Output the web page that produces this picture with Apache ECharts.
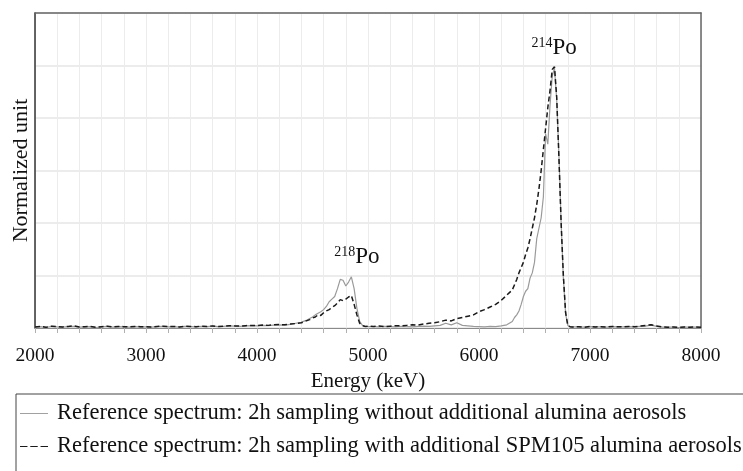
<!DOCTYPE html>
<html>
<head>
<meta charset="utf-8">
<script src="https://cdn.jsdelivr.net/npm/echarts@6/dist/echarts.min.js"></script>
<style>
  html, body { margin: 0; padding: 0; background: #fff; }
  #main { width: 743px; height: 471px; }
</style>
</head>
<body>
<div id="main"></div>
<script>
// energy channels (keV)
const energyKeV = [
  2000, 2050, 2100, 2150, 2200, 2250, 2300, 2350, 2400, 2450,
  2500, 2550, 2600, 2650, 2700, 2750, 2800, 2850, 2900, 2950,
  3000, 3050, 3100, 3150, 3200, 3250, 3300, 3350, 3400, 3450,
  3500, 3550, 3600, 3650, 3700, 3750, 3800, 3850, 3900, 3950,
  4000, 4050, 4100, 4150, 4200, 4250, 4300, 4350, 4400,
  4425, 4450, 4475, 4500, 4525, 4550, 4575, 4600, 4625, 4650,
  4675, 4700, 4725, 4750, 4775, 4800, 4825, 4850, 4875, 4900,
  4925, 4950, 4975, 5000,
  5050, 5100, 5150, 5200, 5250, 5300, 5350, 5400, 5450, 5500,
  5550, 5600, 5650, 5700, 5750, 5800, 5850, 5900, 5950, 6000,
  6050, 6100, 6150, 6200, 6250, 6300,
  6320, 6340, 6360, 6380, 6400, 6420, 6440, 6460, 6480, 6500,
  6520, 6540, 6560, 6580, 6600, 6620, 6640, 6660, 6680, 6700,
  6720, 6740, 6760, 6780, 6800, 6820, 6840,
  6850, 6900, 6950, 7000, 7050, 7100, 7150, 7200, 7250, 7300,
  7350, 7400, 7450, 7500, 7550, 7600, 7650, 7700, 7750, 7800,
  7850, 7900, 7950, 8000
];

// gray solid: without additional alumina aerosols
const withoutAlumina = [
  0.003, 0.005, 0.002, 0.006, 0.004, 0.003, 0.005, 0.006, 0.003, 0.004,
  0.005, 0.002, 0.004, 0.006, 0.003, 0.005, 0.004, 0.003, 0.005, 0.004,
  0.004, 0.003, 0.005, 0.006, 0.004, 0.005, 0.003, 0.006, 0.005, 0.004,
  0.006, 0.005, 0.007, 0.005, 0.006, 0.008, 0.007, 0.006, 0.008, 0.009,
  0.008, 0.010, 0.009, 0.011, 0.012, 0.011, 0.014, 0.018, 0.022,
  0.026, 0.030, 0.036, 0.042, 0.050, 0.056, 0.062, 0.070, 0.082, 0.100,
  0.110, 0.120, 0.150, 0.185, 0.182, 0.160, 0.175, 0.195, 0.150, 0.075,
  0.025, 0.010, 0.006, 0.005,
  0.005, 0.004, 0.006, 0.005, 0.004, 0.006, 0.005, 0.004, 0.006, 0.007,
  0.006, 0.008, 0.010, 0.018, 0.012, 0.020, 0.010, 0.008, 0.006, 0.005,
  0.004, 0.006, 0.005, 0.008, 0.012, 0.025,
  0.040, 0.050, 0.065, 0.090, 0.120, 0.140, 0.150, 0.190, 0.210, 0.250,
  0.340, 0.380, 0.420, 0.500, 0.740, 0.700, 0.850, 0.960, 0.990, 0.870,
  0.660, 0.400, 0.190, 0.055, 0.010, 0.005, 0.004,
  0.003, 0.004, 0.003, 0.005, 0.004, 0.004, 0.003, 0.005, 0.004, 0.004,
  0.005, 0.004, 0.006, 0.007, 0.011, 0.006, 0.003, 0.003, 0.003, 0.002,
  0.003, 0.003, 0.003, 0.002
];

// black dashed: with additional SPM105 alumina aerosols
const withAlumina = [
  0.004, 0.006, 0.003, 0.007, 0.005, 0.004, 0.006, 0.008, 0.004, 0.005,
  0.006, 0.003, 0.005, 0.007, 0.004, 0.006, 0.005, 0.004, 0.006, 0.005,
  0.005, 0.004, 0.006, 0.007, 0.005, 0.006, 0.004, 0.007, 0.006, 0.005,
  0.007, 0.006, 0.008, 0.006, 0.007, 0.009, 0.008, 0.007, 0.009, 0.010,
  0.009, 0.011, 0.010, 0.012, 0.013, 0.012, 0.015, 0.017, 0.020,
  0.024, 0.028, 0.032, 0.038, 0.042, 0.050, 0.048, 0.058, 0.065, 0.070,
  0.078, 0.085, 0.095, 0.108, 0.104, 0.110, 0.118, 0.124, 0.090, 0.050,
  0.018, 0.009, 0.006, 0.007,
  0.006, 0.008, 0.005, 0.007, 0.009, 0.008, 0.010, 0.012, 0.011, 0.015,
  0.018, 0.020, 0.024, 0.030, 0.027, 0.036, 0.040, 0.045, 0.050, 0.062,
  0.070, 0.080, 0.090, 0.105, 0.125, 0.145,
  0.165, 0.185, 0.210, 0.230, 0.250, 0.280, 0.305, 0.340, 0.380, 0.420,
  0.470, 0.530, 0.600, 0.680, 0.760, 0.840, 0.905, 0.985, 0.995, 0.880,
  0.650, 0.400, 0.200, 0.060, 0.010, 0.005, 0.004,
  0.004, 0.005, 0.003, 0.006, 0.004, 0.005, 0.004, 0.006, 0.005, 0.004,
  0.006, 0.005, 0.007, 0.010, 0.012, 0.008, 0.004, 0.003, 0.004, 0.003,
  0.004, 0.003, 0.004, 0.003
];

const seriesNames = [
  'Reference spectrum: 2h sampling without additional alumina aerosols',
  'Reference spectrum: 2h sampling with additional SPM105 alumina aerosols'
];

// peak labels: [energy, height, mass number]
const peakLabels = [
  [4900, 0.27, '218'],
  [6676, 1.066, '214']
];

const FONT = '"Liberation Serif", "DejaVu Serif", serif';

const pairs = (ys) => energyKeV.map((e, i) => [e, ys[i]]);

// legend icons: plain line and three dashes
const solidIcon = 'path://M0,0h30v1h-30z';
const dashIcon = 'path://M0,0h8v1h-8z M11,0h8v1h-8z M22,0h8v1h-8z';

const chart = echarts.init(document.getElementById('main'));

chart.setOption({
  animation: false,
  textStyle: { fontFamily: FONT },
  grid: { left: 35, right: 42, top: 13, bottom: 143 },
  legend: {
    orient: 'vertical',
    left: 15,
    top: 397,
    itemGap: 10,
    itemWidth: 28,
    itemHeight: 1.6,
    textStyle: { fontFamily: FONT, fontSize: 22.5, color: '#111', padding: [0, 0, 0, 4] },
    data: [
      { name: seriesNames[0], icon: solidIcon },
      { name: seriesNames[1], icon: dashIcon }
    ]
  },
  graphic: [
    {
      type: 'rect',
      shape: { x: 16, y: 394, width: 760, height: 100 },
      style: { fill: 'none', stroke: '#444', lineWidth: 1 }
    }
  ],
  xAxis: [
    {
      type: 'value',
      min: 2000,
      max: 8000,
      interval: 200,
      name: 'Energy (keV)',
      nameLocation: 'middle',
      nameGap: 41,
      nameTextStyle: { fontFamily: FONT, fontSize: 21, color: '#111' },
      axisLine: { lineStyle: { color: '#8a8a8a', width: 1 } },
      axisTick: { show: true, length: 5, lineStyle: { color: '#b0b0b0' } },
      axisLabel: {
        fontFamily: FONT,
        fontSize: 19.5,
        color: '#111',
        margin: 18,
        formatter: (v) => (v % 1000 === 0 ? String(v) : '')
      },
      splitLine: { show: true, lineStyle: { color: '#ececec', width: 1 } }
    },
    {
      // top frame
      type: 'value',
      position: 'top',
      min: 2000,
      max: 8000,
      axisLine: { show: true, onZero: false, lineStyle: { color: '#666', width: 1.5 } },
      axisTick: { show: false },
      axisLabel: { show: false },
      splitLine: { show: false }
    }
  ],
  yAxis: [
    {
      type: 'value',
      min: 0,
      max: 1.2,
      interval: 0.2,
      name: 'Normalized unit',
      nameLocation: 'middle',
      nameGap: 3,
      nameTextStyle: { fontFamily: FONT, fontSize: 22, color: '#111' },
      axisLine: { show: true, lineStyle: { color: '#333', width: 1.5 } },
      axisTick: { show: false },
      axisLabel: { show: false },
      splitLine: { show: true, lineStyle: { color: '#e6e6e6', width: 1.5 } }
    },
    {
      // right frame
      type: 'value',
      position: 'right',
      min: 0,
      max: 1.2,
      axisLine: { show: true, onZero: false, lineStyle: { color: '#666', width: 1.5 } },
      axisTick: { show: false },
      axisLabel: { show: false },
      splitLine: { show: false }
    }
  ],
  series: [
    {
      name: seriesNames[0],
      type: 'line',
      symbol: 'none',
      data: pairs(withoutAlumina),
      lineStyle: { color: '#9a9a9a', width: 1.2 },
      itemStyle: { color: '#9a9a9a' },
      z: 2
    },
    {
      name: seriesNames[1],
      type: 'line',
      symbol: 'none',
      data: pairs(withAlumina),
      lineStyle: { color: '#1a1a1a', width: 1.5, type: [5, 3] },
      itemStyle: { color: '#1a1a1a' },
      z: 3,
      markPoint: {
        symbol: 'circle',
        symbolSize: 0,
        data: peakLabels.map(([e, h, a]) => ({
          coord: [e, h],
          label: {
            show: true,
            position: 'inside',
            formatter: `{sup|${a}}{main|Po}`,
            rich: {
              sup: { fontFamily: FONT, fontSize: 14, color: '#111', verticalAlign: 'top', padding: [0, 0, 7, 0] },
              main: { fontFamily: FONT, fontSize: 23, color: '#111' }
            }
          }
        }))
      }
    }
  ]
});
</script>
</body>
</html>
